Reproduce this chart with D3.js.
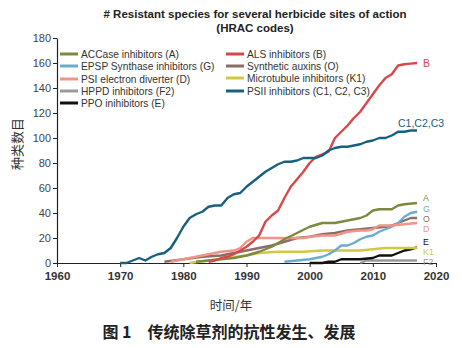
<!DOCTYPE html>
<html><head><meta charset="utf-8">
<script src="https://cdn.jsdelivr.net/npm/d3@7"></script>
<style>
body{margin:0;background:#fff;}
text{font-family:"Open Sans",sans-serif;}
</style></head>
<body><svg id="chart" width="462" height="348"></svg>
<script>
// ---------- data ----------
const xTicks = [1960, 1970, 1980, 1990, 2000, 2010, 2020];
const yTicks = [0, 20, 40, 60, 80, 100, 120, 140, 160, 180];

const accaseYears = [1982,1984,1986,1988,1990,1992,1994,1996,1998,2000,2002,2004,2006,2008,2009,2010,2011,2013,2014,2015,2017];
const accaseValues = [1,2,3,4,6,9,13,19,24,29,32,32,34,36,38,42,43,43,46,47,48];

const alsYears = [1984,1985,1986,1987,1988,1989,1990,1991,1992,1993,1994,1995,1996,1997,1998,1999,2000,2001,2002,2003,2004,2005,2006,2007,2008,2009,2010,2011,2012,2013,2014,2015,2016,2017];
const alsValues = [1,2,4,5,7,10,13,17,22,33,38,42,52,61,67,73,80,85,87,89,100,105,110,116,121,128,135,142,148,151,158,159,159.5,160];

const epspYears = [1996,1998,2000,2002,2003,2004,2005,2006,2007,2008,2009,2010,2011,2012,2013,2014,2015,2016,2017];
const epspValues = [1,2,3,5,7,10,14,14,16,19,21,22,25,27,29,32,37,40,41];

const auxinYears = [1977,1980,1983,1986,1988,1990,1992,1994,1996,1998,2000,2002,2004,2006,2008,2010,2012,2013,2014,2015,2016,2017];
const auxinValues = [1,3,5,6,8,10,12,14,17,20,21,23,24,26,27,28,29,30,32,34,36,36];

const psiYears = [1978,1980,1982,1984,1986,1988,1989,1990,1991,1993,1995,1997,1999,2000,2002,2004,2006,2008,2009,2010,2011,2013,2015,2017];
const psiValues = [1,3,5,7,9,10,12,17,20,20,20,20,20,21,22,22,25,26,26,27,30,30,31,32];

const microYears = [1981,1984,1987,1990,1992,1995,1999,2002,2005,2008,2010,2012,2017];
const microValues = [0,2,4,6,8,9,9,10,10,10,11,12,12];

const hppdYears = [2008,2009,2017];
const hppdValues = [0,2,2];

const psiiYears = [1970,1971,1972,1973,1974,1975,1976,1977,1978,1979,1980,1981,1982,1983,1984,1985,1986,1987,1988,1989,1990,1991,1992,1993,1994,1995,1996,1997,1998,1999,2000,2001,2002,2003,2004,2005,2006,2007,2008,2009,2010,2011,2012,2013,2014,2015,2016,2017];
const psiiValues = [0,0,2,4,2,5,7,8,12,20,29,36,39,41,45,46,46,52,55,56,61,65,69,73,76,79,81,81,82,84,84,84,86,90,92,93,93,94,95,97,98,100,100,102,105,105,106,106];

const ppoYears = [2000,2002,2003,2004,2005,2008,2010,2011,2013,2014,2015,2016,2017];
const ppoValues = [0,0,1,1,3,3,4,6,6,8,10,11,12.5];

const seriesNames = ["ACCase inhibitors (A)","ALS inhibitors (B)","EPSP Synthase inhibitors (G)","Synthetic auxins (O)","PSI electron diverter (D)","Microtubule inhibitors (K1)","HPPD inhibitors (F2)","PSII inhibitors (C1, C2, C3)","PPO inihibitors (E)"];
const seriesCodes = ["A","B","G","O","D","K1","F2","C1,C2,C3","E"];
const seriesColors = ["#7b8a3e","#d9474b","#6aaccc","#8a6c68","#ef9486","#d2c843","#9a9a9a","#17607e","#111111"];
const seriesYears = [accaseYears,alsYears,epspYears,auxinYears,psiYears,microYears,hppdYears,psiiYears,ppoYears];
const seriesValues = [accaseValues,alsValues,epspValues,auxinValues,psiValues,microValues,hppdValues,psiiValues,ppoValues];

const titleLines = ["# Resistant species for several herbicide sites of action","(HRAC codes)"];
const yLabel = "种类数目";
const xLabel = "时间/年";
const caption = "图 1\u3000传统除草剂的抗性发生、发展";

// ---------- drawing ----------
const svg = d3.select("#chart");
const x = d3.scaleLinear().domain([1960,2020]).range([57,436]);
const y = d3.scaleLinear().domain([0,180]).range([263,38]);

// title
svg.selectAll("text.title").data(titleLines).join("text")
  .attr("x",255).attr("y",(d,i)=>18+i*14)
  .attr("text-anchor","middle")
  .style("font-family","Liberation Sans, Arial, sans-serif")
  .style("font-weight","bold").style("font-size","11.5px").attr("fill","#222")
  .text(d=>d);

// axes
const yAxis = svg.append("g").attr("transform","translate(57,0)")
  .call(d3.axisLeft(y).tickValues(yTicks).tickSize(4).tickSizeOuter(0));
yAxis.select(".domain").attr("stroke","#222").attr("stroke-width",1.2);
yAxis.selectAll(".tick line").attr("stroke","#222");
yAxis.selectAll(".tick text").attr("x",-6).style("font-size","11px").style("font-family","Liberation Sans, Arial, sans-serif").attr("fill","#444");

const xAxis = svg.append("g").attr("transform","translate(0,263)")
  .call(d3.axisBottom(x).tickValues(xTicks).tickFormat(d3.format("d")).tickSize(4).tickSizeOuter(0));
xAxis.select(".domain").attr("stroke","#222").attr("stroke-width",1.2);
xAxis.selectAll(".tick line").attr("stroke","#222");
xAxis.selectAll(".tick text").attr("y",9).style("font-size","11.5px").style("font-weight","bold").style("font-family","Liberation Sans, Arial, sans-serif").attr("fill","#333");

// lines
const line = d3.line().x(d=>x(d[0])).y(d=>y(d[1]));
const drawOrder = [6,8,5,3,2,4,0,1,7];
drawOrder.forEach(i=>{
  const pts = seriesYears[i].map((yr,j)=>[yr,seriesValues[i][j]]);
  svg.append("path").datum(pts).attr("d",line)
    .attr("fill","none").attr("stroke",seriesColors[i])
    .attr("stroke-width",2.4).attr("stroke-linejoin","round");
});

// end labels
const endLabels = [];
seriesCodes.forEach((c,i)=>{
  const vals = seriesValues[i], yrs = seriesYears[i];
  const lastV = vals[vals.length-1], lastY = yrs[yrs.length-1];
  endLabels.push({code:c,color:seriesColors[i],x:x(lastY),y:y(lastV)});
});
const stacked = endLabels.filter(d=>d.code!=="B" && d.code!=="C1,C2,C3").sort((a,b)=>a.y-b.y);
const minGap = 10.3;
for(let it=0;it<80;it++){
  for(let k=1;k<stacked.length;k++){
    const gap = stacked[k].y-stacked[k-1].y;
    if(gap<minGap){const push=(minGap-gap)/2; stacked[k].y+=push; stacked[k-1].y-=push;}
  }
}
svg.selectAll("text.end").data(endLabels).join("text")
  .attr("x",d=>d.code==="C1,C2,C3"? d.x+4 : d.x+6)
  .attr("y",d=>d.code==="C1,C2,C3"? d.y-8 : d.y)
  .attr("text-anchor",d=>d.code==="C1,C2,C3"?"middle":"start")
  .attr("dominant-baseline","central")
  .style("font-family","Liberation Sans, Arial, sans-serif")
  .style("font-size",d=>(d.code==="B"||d.code==="C1,C2,C3")?"10.5px":"8.8px").attr("fill",d=>d.color)
  .text(d=>d.code);

// legend
const col1 = [0,2,4,6,8], col2 = [1,3,5,7];
const col1Y = [54,66,79,91,103], col2Y = [54,66,78,91];
function legend(idxs,ys,x0){
  const g = svg.append("g");
  idxs.forEach((si,k)=>{
    g.append("line").attr("x1",x0).attr("x2",x0+18).attr("y1",ys[k]).attr("y2",ys[k])
      .attr("stroke",seriesColors[si]).attr("stroke-width",3);
    g.append("text").attr("x",x0+21).attr("y",ys[k]).attr("dominant-baseline","central")
      .style("font-family","Liberation Sans, Arial, sans-serif")
      .style("font-size","10.2px").attr("fill","#333").text(seriesNames[si]);
  });
}
legend(col1,col1Y,60);
legend(col2,col2Y,226);

// axis titles
svg.append("text").attr("transform","translate(16,144) rotate(-90)")
  .attr("text-anchor","middle").attr("dominant-baseline","central")
  .style("font-family","Noto Sans CJK SC, sans-serif").style("font-size","13px").attr("fill","#333")
  .text(yLabel);
svg.append("text").attr("x",231).attr("y",304).attr("text-anchor","middle").attr("dominant-baseline","central")
  .style("font-family","Noto Sans CJK SC, sans-serif").style("font-size","12.5px").attr("fill","#333")
  .text(xLabel);
svg.append("text").attr("x",229).attr("y",331).attr("text-anchor","middle").attr("dominant-baseline","central")
  .style("font-family","Noto Sans CJK SC, sans-serif").style("font-size","16px").style("font-weight","bold").attr("fill","#222")
  .text(caption);
</script></body></html>
